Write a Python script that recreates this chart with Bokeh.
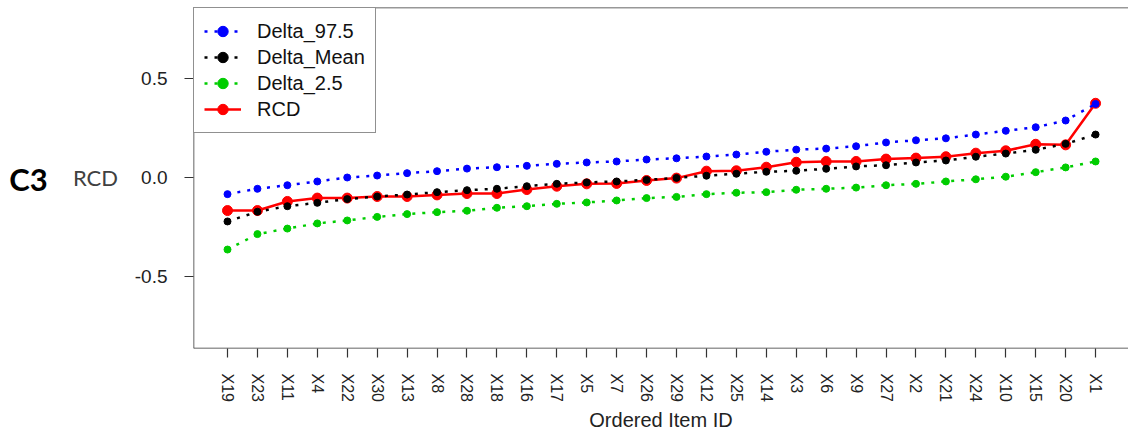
from bokeh.plotting import figure
from bokeh.layouts import row
from bokeh.models import Range1d, FixedTicker, Legend, LegendItem, Label, Span
from bokeh.embed import file_html
from bokeh.resources import INLINE

items = ["X19", "X23", "X11", "X4", "X22", "X30", "X13", "X8", "X28", "X18",
         "X16", "X17", "X5", "X7", "X26", "X29", "X12", "X25", "X14", "X3",
         "X6", "X9", "X27", "X2", "X21", "X24", "X10", "X15", "X20", "X1"]
delta_975 = [-0.084, -0.057, -0.039, -0.020, 0.000, 0.010, 0.022, 0.032, 0.045, 0.052,
             0.059, 0.069, 0.076, 0.081, 0.091, 0.097, 0.106, 0.116, 0.130, 0.141,
             0.146, 0.158, 0.177, 0.188, 0.198, 0.217, 0.236, 0.254, 0.288, 0.372]
delta_mean = [-0.222, -0.173, -0.145, -0.128, -0.109, -0.096, -0.086, -0.074, -0.064, -0.057,
              -0.044, -0.032, -0.025, -0.020, -0.012, -0.002, 0.009, 0.019, 0.029, 0.034,
              0.044, 0.056, 0.062, 0.076, 0.086, 0.105, 0.121, 0.140, 0.170, 0.217]
delta_25 = [-0.364, -0.286, -0.258, -0.232, -0.217, -0.199, -0.185, -0.175, -0.168, -0.153,
            -0.145, -0.133, -0.126, -0.116, -0.104, -0.098, -0.084, -0.077, -0.074, -0.062,
            -0.057, -0.051, -0.039, -0.032, -0.020, -0.009, 0.004, 0.027, 0.051, 0.081]
rcd = [-0.167, -0.167, -0.121, -0.104, -0.104, -0.096, -0.096, -0.088, -0.081, -0.081,
       -0.061, -0.044, -0.032, -0.030, -0.015, -0.003, 0.032, 0.034, 0.052, 0.077,
       0.081, 0.081, 0.093, 0.098, 0.105, 0.123, 0.135, 0.168, 0.165, 0.375]
y_ticks = [-0.5, 0.0, 0.5]
y_tick_labels = ["-0.5", "0.0", "0.5"]

xs = list(range(1, len(items) + 1))

Y0, Y1 = -0.864, 0.859
X0, X1 = -0.136, 31.10
LEFT_W = 120
yr = Range1d(Y0, Y1)

# left strip holding the panel tag and the y label
side = figure(width=LEFT_W, height=433, output_backend="svg", toolbar_location=None,
              x_range=Range1d(0, LEFT_W), y_range=yr,
              x_axis_location=None, y_axis_location=None,
              min_border_left=0, min_border_right=0, min_border_top=7, min_border_bottom=85)
side.grid.visible = False
side.outline_line_color = None
side.border_fill_color = "white"
side.add_layout(Label(x=95, y=0.0, text="RCD",
                      text_font="Lato", text_font_size="22px", text_color="#404040",
                      text_align="center", text_baseline="middle"))
side.add_layout(Label(x=28, y=-0.01, text="C3",
                      text_font="Lato", text_font_size="31px", text_font_style="bold",
                      text_color="#000000", text_align="center", text_baseline="middle"))

p = figure(width=1128 - LEFT_W, height=433, output_backend="svg", toolbar_location=None,
           x_range=Range1d(X0, X1), y_range=yr,
           min_border_left=193 - LEFT_W, min_border_right=0, min_border_top=7,
           min_border_bottom=85)
p.grid.visible = False
p.outline_line_color = None
p.background_fill_color = "white"
p.border_fill_color = "white"

FONT = "Liberation Sans"
AX = "#333333"

# frame lines (no right edge, as in the reference)
for loc in (Y1, Y0):
    p.add_layout(Span(location=loc, dimension="width", line_color=AX, line_width=1.5))
p.add_layout(Span(location=X0, dimension="height", line_color=AX, line_width=1.5))

# x axis
p.xaxis.ticker = FixedTicker(ticks=xs)
p.xaxis.major_label_overrides = {x: lab for x, lab in zip(xs, items)}
p.xaxis.major_label_orientation = "vertical"
p.xaxis.axis_line_color = None
p.xaxis.major_tick_in = 0
p.xaxis.major_tick_out = 9
p.xaxis.major_tick_line_color = AX
p.xaxis.major_tick_line_width = 1.2
p.xaxis.minor_tick_line_color = None
p.xaxis.major_label_standoff = 16
p.xaxis.major_label_text_font = FONT
p.xaxis.major_label_text_font_size = "16px"
p.xaxis.major_label_text_color = "#222222"
p.xaxis.axis_label = "Ordered Item ID"
p.xaxis.axis_label_text_font = FONT
p.xaxis.axis_label_text_font_size = "20px"
p.xaxis.axis_label_text_font_style = "normal"
p.xaxis.axis_label_text_color = "#222222"
p.xaxis.axis_label_standoff = 4

# y axis
p.yaxis.ticker = FixedTicker(ticks=y_ticks)
p.yaxis.major_label_overrides = {t: l for t, l in zip(y_ticks, y_tick_labels)}
p.yaxis.axis_line_color = None
p.yaxis.major_tick_in = 0
p.yaxis.major_tick_out = 9
p.yaxis.major_tick_line_color = AX
p.yaxis.major_tick_line_width = 1.2
p.yaxis.minor_tick_line_color = None
p.yaxis.major_label_standoff = 17
p.yaxis.major_label_text_font = FONT
p.yaxis.major_label_text_font_size = "19px"
p.yaxis.major_label_text_color = "#222222"

DASH = "3 7"
r_line = p.line(xs, rcd, line_color="#FF0000", line_width=2.5)
r_pts = p.scatter(xs, rcd, size=10, fill_color="#FF0000", line_color="#FF0000")
b_line = p.line(xs, delta_975, line_color="#0000FF", line_width=2.5, line_dash=DASH)
b_pts = p.scatter(xs, delta_975, size=7, fill_color="#0000FF", line_color="#0000FF")
k_line = p.line(xs, delta_mean, line_color="#000000", line_width=2.5, line_dash=DASH)
k_pts = p.scatter(xs, delta_mean, size=7, fill_color="#000000", line_color="#000000")
g_line = p.line(xs, delta_25, line_color="#00CD00", line_width=2.5, line_dash=DASH)
g_pts = p.scatter(xs, delta_25, size=7, fill_color="#00CD00", line_color="#00CD00")

legend = Legend(items=[
    LegendItem(label="Delta_97.5", renderers=[b_line, b_pts]),
    LegendItem(label="Delta_Mean", renderers=[k_line, k_pts]),
    LegendItem(label="Delta_2.5", renderers=[g_line, g_pts]),
    LegendItem(label="RCD", renderers=[r_line, r_pts]),
], location="top_left", margin=0, padding=10, spacing=0,
    glyph_width=37, glyph_height=26, label_standoff=16,
    label_text_font=FONT, label_text_font_size="20px", label_text_color="#111111",
    label_height=26,
    border_line_color="#222222", border_line_width=1.2, background_fill_alpha=1.0)
p.add_layout(legend)

layout = row(side, p, spacing=0)
open("out.html", "w").write(file_html(layout, INLINE))
